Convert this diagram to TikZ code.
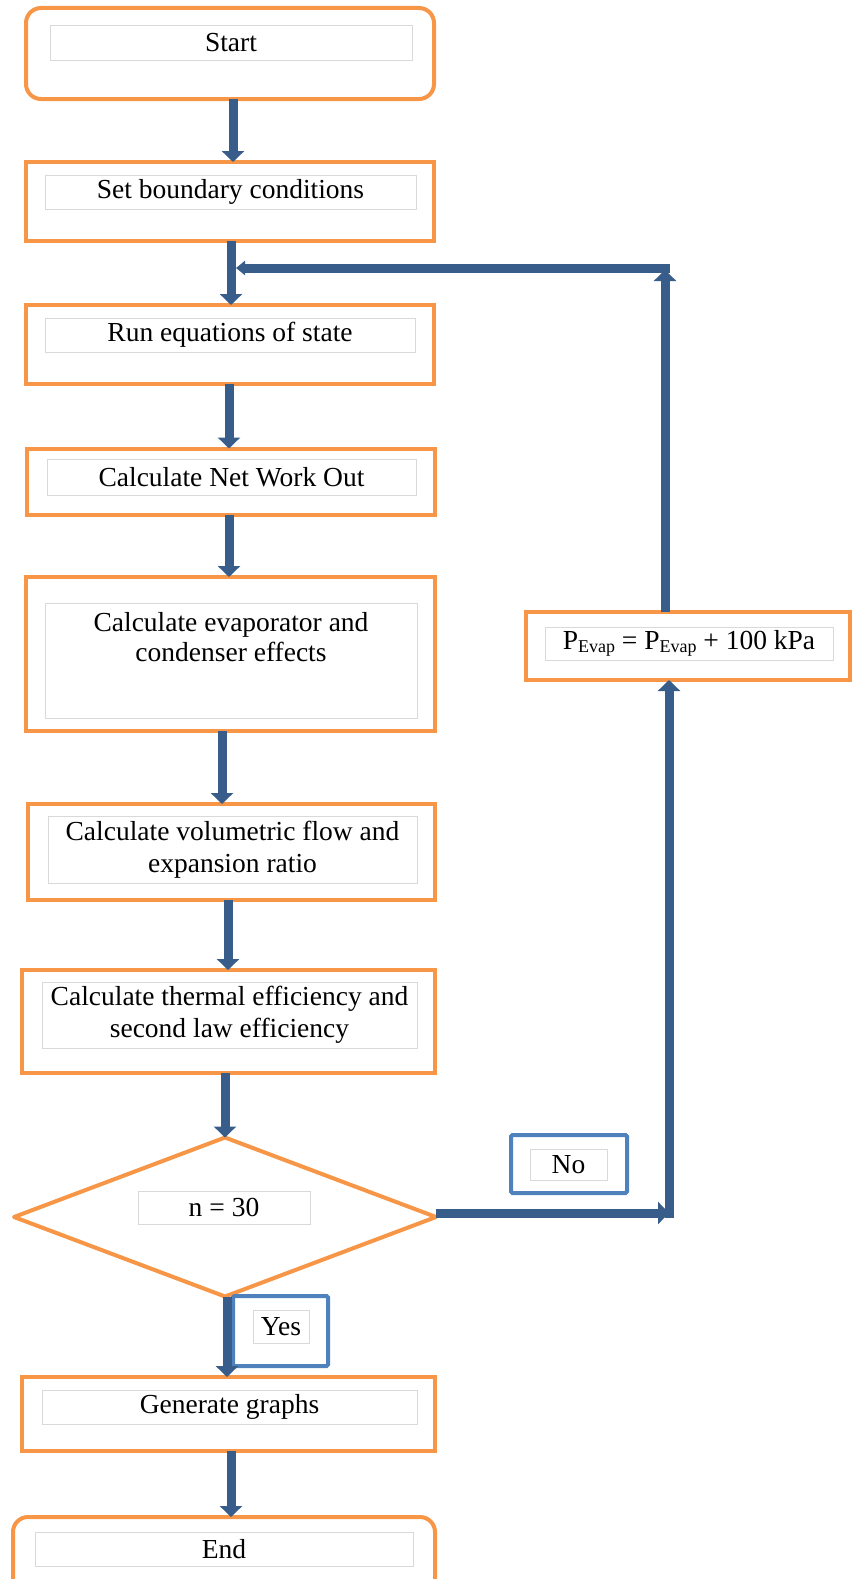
\documentclass[tikz,border=0pt]{standalone}
\usepackage{fontspec}
\setmainfont{Liberation Serif}
\usetikzlibrary{arrows.meta,shapes.geometric}
\definecolor{orng}{HTML}{F79646}
\definecolor{arrblue}{HTML}{385D8A}
\definecolor{lblblue}{HTML}{4F81BD}
\definecolor{ingray}{HTML}{D9D9D9}
\newcommand{\evsub}{\raisebox{-2.5pt}{\fontsize{18}{18}\selectfont Evap}}
\begin{document}
\begin{tikzpicture}[x=1pt,y=-1pt,
  obox/.style={draw=orng, line width=4pt, inner sep=0pt, outer sep=0pt},
  lbox/.style={draw=lblblue, line width=4pt, rounded corners=1.5pt, inner sep=0pt, outer sep=0pt},
  gbox/.style={draw=ingray, line width=0.8pt, inner sep=0pt, outer sep=0pt},
  txt/.style={font=\fontsize{27.5}{32}\selectfont, align=center, inner sep=0pt},
  arr/.style={draw=arrblue, line width=9pt, -{Triangle[width=22pt,length=11pt]}},
  arrsm/.style={draw=arrblue, line width=9pt, -{Triangle[width=14pt,length=9pt]}}
]
\clip (0,0) rectangle (852,1579);
\useasboundingbox (0,0) rectangle (852,1579);

% outer boxes
\node[obox, rounded corners=15pt, minimum width=408pt, minimum height=91pt] (start) at (230,53.5) {};
\node[obox, minimum width=408pt, minimum height=79pt] (set) at (230,201.5) {};
\node[obox, minimum width=408pt, minimum height=79pt] (run) at (230,344.5) {};
\node[obox, minimum width=408pt, minimum height=66pt] (net) at (231,481.5) {};
\node[obox, minimum width=409pt, minimum height=154pt] (evap) at (230.5,654) {};
\node[obox, minimum width=407pt, minimum height=96pt] (vol) at (231.5,852) {};
\node[obox, minimum width=413pt, minimum height=103pt] (therm) at (228.5,1021.5) {};
\node[obox, minimum width=324pt, minimum height=68pt] (pevap) at (688,646) {};
\node[obox, shape=diamond, line join=round, minimum width=422pt, minimum height=159pt] (dia) at (225,1217) {};
\node[obox, minimum width=413pt, minimum height=74pt] (gen) at (228.5,1414) {};
\node[obox, rounded corners=15pt, minimum width=422pt, minimum height=90pt] (endb) at (224,1562) {};
\node[lbox, minimum width=116pt, minimum height=58pt] (no) at (569,1164) {};
\node[lbox, minimum width=95pt, minimum height=70pt] (yes) at (280.5,1331) {};

% inner grey text boxes
\node[gbox, minimum width=362pt, minimum height=35pt] (startin) at (231,42.5) {};
\node[txt] (starttx) at (startin) {Start};
\node[gbox, minimum width=371pt, minimum height=34pt] (setin) at (230.5,192) {};
\node[txt] (settx) at (setin) {Set boundary conditions};
\node[gbox, minimum width=370pt, minimum height=34pt] (runin) at (230,335) {};
\node[txt] (runtx) at (runin) {Run equations of state};
\node[gbox, minimum width=369pt, minimum height=36pt] (netin) at (231.5,477) {};
\node[txt] (nettx) at (netin) {Calculate Net Work Out};
\node[gbox, minimum width=372pt, minimum height=115pt] (evapin) at (231,660.5) {};
\node[txt, font=\fontsize{27.5}{30}\selectfont] (evaptx) at (231,637) {Calculate evaporator and\\condenser effects};
\node[gbox, minimum width=369pt, minimum height=67pt] (volin) at (232.5,849.5) {};
\node[txt] (voltx) at (volin) {Calculate volumetric flow and\\expansion ratio};
\node[gbox, minimum width=375pt, minimum height=66pt] (thermin) at (229.5,1015) {};
\node[txt] (thermtx) at (thermin) {Calculate thermal efficiency and\\second law efficiency};
\node[gbox, minimum width=288pt, minimum height=33pt] (pevapin) at (689,643.5) {};
\node[txt] (pevaptx) at (pevapin) {P\evsub{} = P\evsub{} + 100 kPa};
\node[gbox, minimum width=172pt, minimum height=33pt] (diain) at (224,1207.5) {};
\node[txt] (diatx) at (diain) {n = 30};
\node[gbox, minimum width=77pt, minimum height=31pt] (noin) at (568.5,1164.5) {};
\node[txt] (notx) at (noin) {No};
\node[gbox, minimum width=56pt, minimum height=33pt] (yesin) at (281,1326.5) {};
\node[txt] (yestx) at (yesin) {Yes};
\node[gbox, minimum width=375pt, minimum height=34pt] (genin) at (229.5,1407) {};
\node[txt] (gentx) at (genin) {Generate graphs};
\node[gbox, minimum width=378pt, minimum height=34pt] (endin) at (224,1549) {};
\node[txt] (endtx) at (endin) {End};

% connectors
\draw[arr] ([xshift=3pt]start.south) -- ([xshift=3pt]set.north);
\draw[arr] ([xshift=1pt]set.south) -- ([xshift=1pt]run.north);
\draw[arr] ([xshift=-1pt]run.south) -- ([xshift=-2pt]net.north);
\draw[arr] ([xshift=-2pt]net.south) -- ([xshift=-1.5pt]evap.north);
\draw[arr] ([xshift=-8.5pt]evap.south) -- ([xshift=-9.5pt]vol.north);
\draw[arr] ([xshift=-3.5pt]vol.south) -- ([xshift=-0.5pt]therm.north);
\draw[arr] ([xshift=-3.5pt]therm.south) -- (dia.north);
\draw[arr] ([xshift=2pt]dia.south) -- ([xshift=-1.5pt]gen.north);
\draw[arr] ([xshift=2.5pt]gen.south) -- ([xshift=7pt]endb.north);

% No branch and feedback loop
\coordinate (noc) at (669,1213);
\draw[arr] ([yshift=4pt]dia.east) -- (noc);
\draw[arr] ([yshift=-4.5pt]noc) -- (noc |- pevap.south);
\coordinate (fbc) at (665,268);
\coordinate (fbj) at (236,268);
\draw[arr] ([xshift=-23pt]pevap.north) -- ([yshift=-2pt]fbc);
\draw[arrsm] ([xshift=4.5pt]fbc) -- (fbj);
\end{tikzpicture}
\end{document}
